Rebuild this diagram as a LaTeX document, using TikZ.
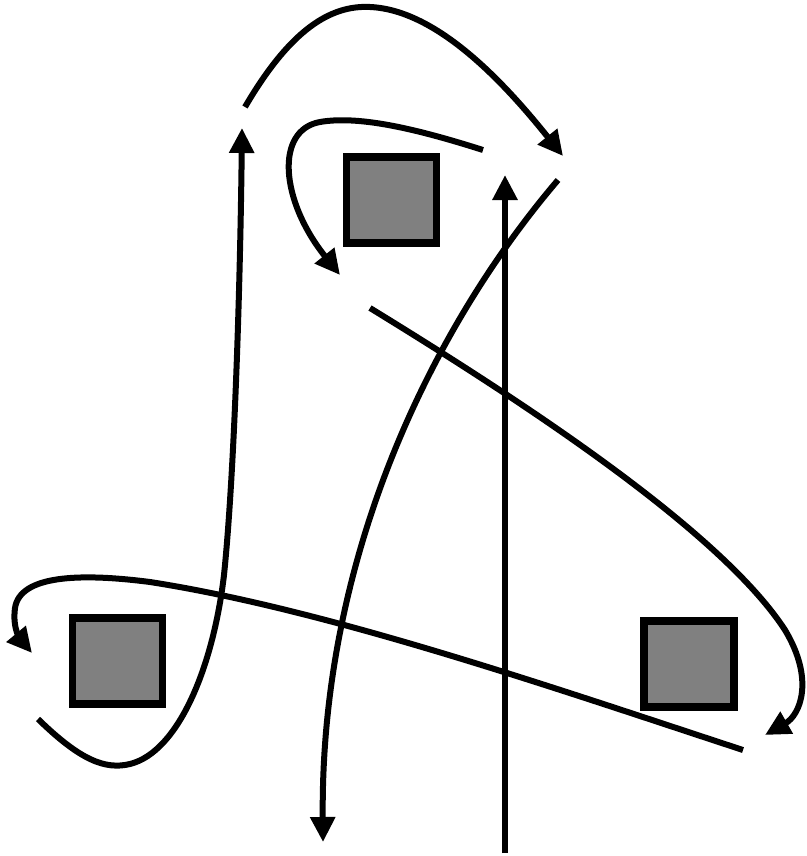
\documentclass[tikz,border=0pt]{standalone}
\usetikzlibrary{arrows.meta}
\definecolor{boxgray}{RGB}{128,128,128}
\begin{document}
\begin{tikzpicture}[x=1pt,y=-1pt,
  curve/.style={line width=6pt, black},
  arr/.style={curve, -{Triangle[length=25pt,width=24pt]}},
  box/.style={draw=black, line width=7.5pt, fill=boxgray, minimum width=90pt, minimum height=86pt, inner sep=0pt}]
\useasboundingbox (0,0) rectangle (806,856);
\node[box] (sqtop) at (391.5,200) {};
\node[box] (sqleft) at (117.5,661) {};
\node[box] (sqright) at (689,664) {};
% A: left loop going up
\coordinate (a0) at (38,719);
\coordinate (a1) at (242,128);
\draw[arr] (a0) .. controls (80,760) and (105,770) .. (130,764)
  .. controls (178,752) and (213,668) .. (224,575)
  .. controls (234,478) and (240,300) .. (a1);
% B: top arc
\coordinate (b0) at (245,107);
\coordinate (b1) at (563,156);
\draw[arr] (b0) .. controls (290,30) and (330,5) .. (370,7)
  .. controls (440,10) and (510,90) .. (b1);
% C: inner arc round top box
\coordinate (c0) at (483,150);
\coordinate (c1) at (340,275);
\draw[arr] (c0) .. controls (420,130) and (360,115) .. (320,122)
  .. controls (275,130) and (280,200) .. (c1);
% D: long curve down
\coordinate (d0) at (558,180);
\coordinate (d1) at (323,842);
\draw[arr] (d0) .. controls (430,330) and (320,560) .. (d1);
% E: vertical line
\coordinate (e0) at (505,853);
\coordinate (e1) at (505,175);
\draw[arr] (e0) -- (e1);
% F: diagonal to right loop
\coordinate (f0) at (370,308);
\coordinate (f1) at (765,735);
\draw[arr] (f0) .. controls (520,400) and (720,530) .. (785,630)
  .. controls (815,680) and (800,715) .. (f1);
% G: long line to left loop
\coordinate (g0) at (743,750);
\coordinate (g1) at (32,653);
\draw[arr] (g0) .. controls (560,690) and (330,610) .. (150,582)
  .. controls (80,573) and (20,575) .. (15,608)
  .. controls (12,630) and (22,641) .. (g1);
\end{tikzpicture}
\end{document}
